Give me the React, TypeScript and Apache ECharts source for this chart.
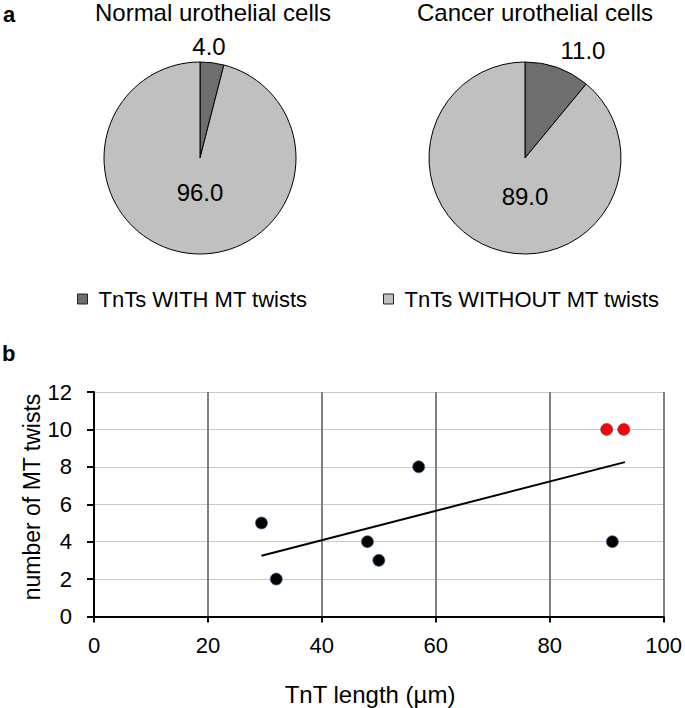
import React, { useEffect, useRef } from "react";
import * as echarts from "echarts";

// ---- data ----
const sliceNames = ["TnTs WITH MT twists", "TnTs WITHOUT MT twists"];
const pieTitles = ["Normal urothelial cells", "Cancer urothelial cells"];
const normalValues = [4.0, 96.0];
const cancerValues = [11.0, 89.0];

const blackX = [29.4, 32, 48, 50, 57, 91];
const blackY = [5, 2, 4, 3, 8, 4];
const redX = [90, 93];
const redY = [10, 10];
const trendX = [29.4, 93.2];
const trendY = [3.25, 8.25];

const xTitle = "TnT length (µm)";
const yTitle = "number of MT twists";

const FONT = "Liberation Sans, Arial, sans-serif";
const DARK = "#6e6e6e";
const LIGHT = "#c0c0c0";

export default function App() {
  const ref = useRef<HTMLDivElement>(null);
  useEffect(() => {
    if (!ref.current) return;
    const chart = echarts.init(ref.current, null, { renderer: "svg" });

    const pieCommon = (values: number[], center: [number, number], pos: { small: [number, number]; big: [number, number] }) => ({
      type: "pie",
      center,
      radius: 96,
      startAngle: 90,
      clockwise: true,
      silent: true,
      emphasis: { disabled: true },
      itemStyle: { borderColor: "#000", borderWidth: 1 },
      label: {
        show: true,
        position: "inside",
        fontSize: 24,
        color: "#000",
        fontFamily: FONT,
        formatter: (p: any) => Number(p.value).toFixed(1),
      },
      labelLine: { show: false },
      labelLayout: (p: any) => {
        const pt = p.dataIndex === 0 ? pos.small : pos.big;
        return { x: pt[0], y: pt[1], align: "center", verticalAlign: "middle" };
      },
      data: values.map((v, i) => ({
        name: sliceNames[i],
        value: v,
        itemStyle: { color: i === 0 ? DARK : LIGHT },
      })),
    });

    const legendCommon = (name: string, left: number) => ({
      data: [name],
      left,
      top: 288,
      padding: 0,
      icon: "rect",
      itemWidth: 10,
      itemHeight: 10,
      selectedMode: false,
      itemStyle: { borderColor: "#222", borderWidth: 1 },
      textStyle: { fontSize: 22, color: "#000", fontFamily: FONT, padding: [0, 0, 0, 6] },
    });

    const option: any = {
      animation: false,
      backgroundColor: "#fff",
      textStyle: { fontFamily: FONT },
      legend: [legendCommon(sliceNames[0], 77), legendCommon(sliceNames[1], 383)],
      graphic: [
        { type: "text", left: 3, top: 3, style: { text: "a", fontSize: 22, fontWeight: "bold", fill: "#000", fontFamily: FONT } },
        { type: "text", left: 2, top: 342, style: { text: "b", fontSize: 22, fontWeight: "bold", fill: "#000", fontFamily: FONT } },
        { type: "text", x: 213, y: 12, style: { text: pieTitles[0], fontSize: 24, fill: "#000", fontFamily: FONT, align: "center", verticalAlign: "middle" } },
        { type: "text", x: 535, y: 12, style: { text: pieTitles[1], fontSize: 24, fill: "#000", fontFamily: FONT, align: "center", verticalAlign: "middle" } },
        { type: "text", x: 370, y: 694, style: { text: xTitle, fontSize: 24, fill: "#000", fontFamily: FONT, align: "center", verticalAlign: "middle" } },
        { type: "text", x: 32, y: 497, rotation: Math.PI / 2, style: { text: yTitle, fontSize: 23, fill: "#000", fontFamily: FONT, align: "center", verticalAlign: "middle" } },
      ],
      grid: { left: 94, top: 392, width: 570, height: 224.5, containLabel: false },
      xAxis: {
        type: "value",
        min: 0,
        max: 100,
        interval: 20,
        axisLine: { show: true, onZero: false, lineStyle: { color: "#000", width: 2 } },
        axisTick: { show: true, inside: false, length: 6, lineStyle: { color: "#000", width: 2 } },
        axisLabel: { fontSize: 22, color: "#000", margin: 18, fontFamily: FONT },
        splitLine: { show: true, lineStyle: { color: "#808080", width: 2 } },
      },
      yAxis: {
        type: "value",
        min: 0,
        max: 12,
        interval: 2,
        axisLine: { show: true, onZero: false, lineStyle: { color: "#000", width: 2 } },
        axisTick: { show: true, inside: false, length: 7, lineStyle: { color: "#000", width: 2 } },
        axisLabel: { fontSize: 22, color: "#000", margin: 22, fontFamily: FONT },
        splitLine: { show: true, lineStyle: { color: "#c8c8c8", width: 1 } },
      },
      series: [
        pieCommon(normalValues, [200, 158], { small: [209, 46], big: [200, 192] }),
        pieCommon(cancerValues, [525, 158], { small: [583, 50], big: [525, 196] }),
        {
          type: "line",
          data: trendX.map((x, i) => [x, trendY[i]]),
          showSymbol: false,
          symbol: "none",
          silent: true,
          lineStyle: { color: "#000", width: 2 },
          z: 3,
        },
        {
          type: "scatter",
          data: blackX.map((x, i) => [x, blackY[i]]),
          symbolSize: 12,
          silent: true,
          itemStyle: { color: "#000", borderColor: "#3a5f9a", borderWidth: 0.7, opacity: 1 },
          z: 4,
        },
        {
          type: "scatter",
          data: redX.map((x, i) => [x, redY[i]]),
          symbolSize: 12,
          silent: true,
          itemStyle: { color: "#ff0000", borderColor: "#3a5f9a", borderWidth: 0.7, opacity: 1 },
          z: 4,
        },
      ],
    };
    chart.setOption(option);
    return () => chart.dispose();
  }, []);

  return (
    <div
      ref={ref}
      style={{ position: "fixed", left: 0, top: 0, width: 685, height: 708, background: "#fff" }}
    />
  );
}
